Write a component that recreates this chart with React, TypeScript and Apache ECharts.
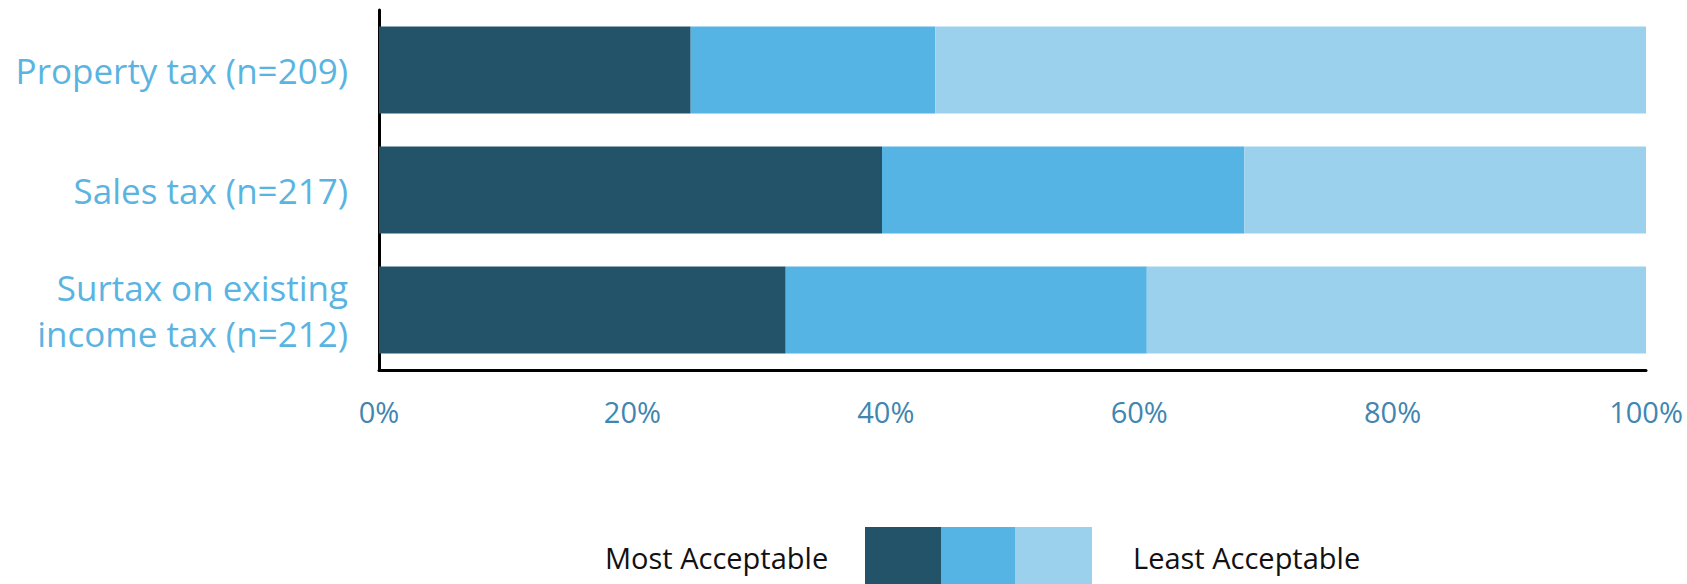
import React, { useEffect, useRef } from "react";
import * as echarts from "echarts";

const categories = [
  "Property tax (n=209)",
  "Sales tax (n=217)",
  "Surtax on existing\nincome tax (n=212)",
];
const seriesNames = ["Most Acceptable", "Middle", "Least Acceptable"];
const mostAcceptable = [24.6, 39.7, 32.1];
const middle = [19.3, 28.6, 28.5];
const leastAcceptable = [56.1, 31.7, 39.4];
const seriesColors = ["#235369", "#56b4e5", "#9bd1ec"];
const legendLabels = ["Most Acceptable", "Least Acceptable"];

export default function App() {
  const ref = useRef<HTMLDivElement>(null);

  useEffect(() => {
    if (!ref.current) return;
    const chart = echarts.init(ref.current, undefined, { renderer: "svg" });
    const values = [mostAcceptable, middle, leastAcceptable];
    const swatchX = [865, 941, 1015];
    const swatchW = [76, 74, 77];
    chart.setOption({
      animation: false,
      grid: { left: 379, right: 41, top: 10, bottom: 214, containLabel: false },
      xAxis: {
        type: "value",
        min: 0,
        max: 100,
        interval: 20,
        axisLine: { show: true, lineStyle: { color: "#000", width: 3 } },
        axisTick: { show: false },
        splitLine: { show: false },
        axisLabel: {
          formatter: "{value}%",
          fontFamily: "Open Sans",
          fontSize: 29,
          color: "#3f86b0",
          margin: 27,
        },
      },
      yAxis: {
        type: "category",
        inverse: true,
        data: categories,
        axisLine: { show: true, lineStyle: { color: "#000", width: 3 } },
        axisTick: { show: false },
        axisLabel: {
          fontFamily: "Open Sans",
          fontSize: 35,
          lineHeight: 46,
          color: "#5ab4e2",
          margin: 31,
          align: "right",
        },
      },
      series: values.map((v, i) => ({
        name: seriesNames[i],
        type: "bar",
        stack: "total",
        barWidth: 87,
        data: v,
        itemStyle: { color: seriesColors[i] },
      })),
      graphic: [
        {
          type: "text",
          x: 605,
          y: 557,
          style: {
            text: legendLabels[0],
            fontFamily: "Open Sans",
            fontSize: 29,
            fill: "#111",
            textVerticalAlign: "middle",
          },
        },
        ...seriesColors.map((c, i) => ({
          type: "rect",
          shape: { x: swatchX[i], y: 527, width: swatchW[i], height: 57 },
          style: { fill: c },
        })),
        {
          type: "text",
          x: 1133,
          y: 557,
          style: {
            text: legendLabels[1],
            fontFamily: "Open Sans",
            fontSize: 29,
            fill: "#111",
            textVerticalAlign: "middle",
          },
        },
      ],
    });
    return () => chart.dispose();
  }, []);

  return (
    <div
      ref={ref}
      style={{ position: "fixed", left: 0, top: 0, width: 1687, height: 584, background: "#fff" }}
    />
  );
}
